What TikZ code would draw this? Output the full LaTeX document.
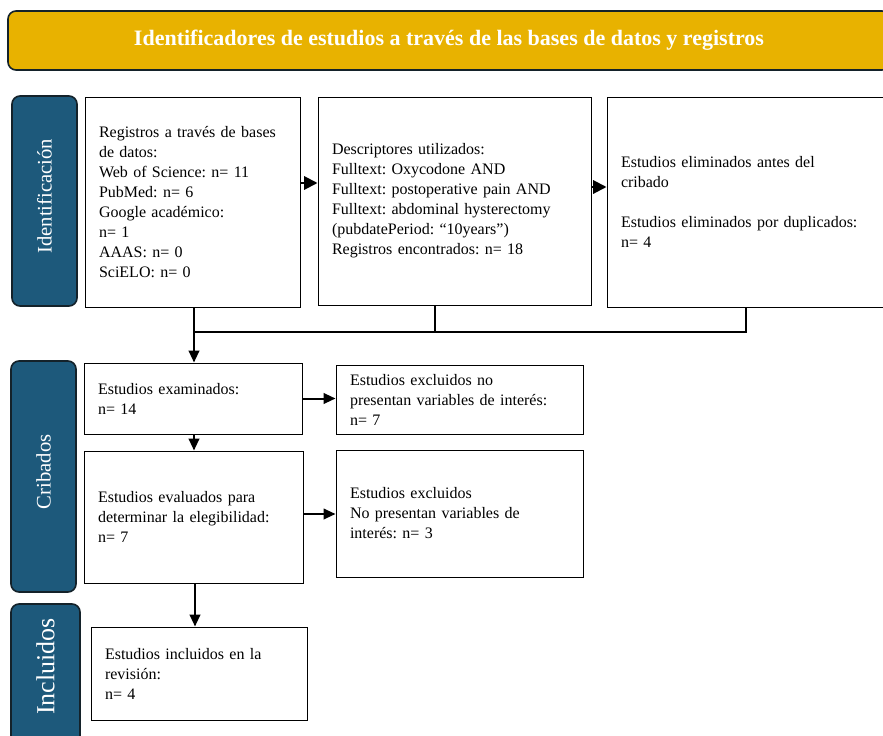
\documentclass[tikz,border=0pt]{standalone}
\usepackage{fontspec}
\setmainfont{Liberation Serif}
\usetikzlibrary{arrows.meta}
\frenchspacing

\definecolor{oro}{RGB}{232,178,0}
\definecolor{azulfase}{RGB}{29,89,123}
\definecolor{bordefase}{RGB}{20,34,42}

\tikzset{every picture/.style={line width=0.75pt}}
\tikzset{
  caja/.style={draw, fill=white, inner xsep=10.5pt, text width=#1, align=left,
    font=\fontsize{12}{15}\selectfont},
  fase/.style={draw=bordefase, line width=1.2pt, fill=azulfase, rounded corners=6pt,
    text=white, rotate=90, font=\fontsize{15.5}{18}\selectfont},
  flecha/.style={line width=1.5pt, -{Triangle[length=9pt,width=8pt]}},
  linea/.style={line width=1.5pt}
}

\begin{document}
\begin{tikzpicture}[x=0.75pt,y=0.75pt,yscale=-1,xscale=1]
\useasboundingbox (0,0) rectangle (883,736);

%Title bar
\node [draw=bordefase, line width=1.2pt, fill=oro, rounded corners=6pt, minimum width=661.5pt, minimum height=44.25pt, text=white, font=\fontsize{16.5}{20}\selectfont\bfseries] (titulo) at (449,40.5) {Identificadores de estudios a través de las bases de datos y registros};

%Phase labels
\node [fase, minimum width=157.5pt, minimum height=48.75pt] (identificacion) at (44.5,201) {\hspace{7pt}Identificación};
\node [fase, minimum width=173.25pt, minimum height=48.75pt] (cribados) at (43.5,476.5) {\hspace{7pt}Cribados};
\node [fase, minimum width=109.5pt, minimum height=51.75pt, font=\fontsize{19.5}{22}\selectfont] (incluidos) at (45.5,677) {\hspace{16pt}Incluidos};

% Text Node
\node [caja=140.25pt, minimum height=157.5pt] (registros) at (192.5,202) {Registros a través de bases\\de datos:\\Web of Science: n= 11\\PubMed: n= 6\\Google académico:\\n= 1\\AAAS: n= 0\\SciELO: n= 0};
% Text Node
\node [caja=183.75pt, minimum height=156pt] (descriptores) at (454.5,201) {Descriptores utilizados:\\Fulltext: Oxycodone AND\\Fulltext: postoperative pain AND\\Fulltext: abdominal hysterectomy\\(pubdatePeriod: “10years”)\\Registros encontrados: n= 18};
% Text Node
\node [caja=191.25pt, minimum height=157.5pt] (eliminados) at (748.5,202) {Estudios eliminados antes del\\cribado\\[14.5pt]Estudios eliminados por duplicados:\\n= 4};

% Text Node
\node [caja=142.5pt, minimum height=53.25pt] (examinados) at (193,398.5) {Estudios examinados:\\n= 14};
% Text Node
\node [caja=164.25pt, minimum height=51.75pt] (excluidosa) at (459.5,399.5) {Estudios excluidos no\\presentan variables de interés:\\n= 7};
% Text Node
\node [caja=143.25pt, minimum height=99pt] (evaluados) at (193.5,517) {Estudios evaluados para\\determinar la elegibilidad:\\n= 7};
% Text Node
\node [caja=164.25pt, minimum height=95.25pt] (excluidosb) at (459.5,513.5) {Estudios excluidos\\No presentan variables de\\interés: n= 3};
% Text Node
\node [caja=141pt, minimum height=69.75pt] (incluidosbox) at (199,673.5) {Estudios incluidos en la\\revisión:\\n= 4};

%Connectors
\coordinate (union) at (194,332);
\draw [flecha, -{Triangle[length=10pt,width=10pt]}] ([yshift=-14.25pt]registros.east) -- ([yshift=-14.25pt]registros.east -| descriptores.west);
\draw [flecha, -{Triangle[length=10pt,width=10pt]}] ([yshift=-10.5pt]descriptores.east) -- ([yshift=-10.5pt]descriptores.east -| eliminados.west);
\draw [linea] (registros.south -| union) -- (union);
\draw [linea] ([xshift=-14.6pt]descriptores.south) |- (union);
\draw [linea] (union) -| (eliminados.south -| 746,0);
\draw [flecha] (union) -- (union |- examinados.north);
\draw [flecha] (examinados.east) -- (examinados.east -| excluidosa.west);
\draw [flecha] (examinados.south -| union) -- (union |- evaluados.north);
\draw [flecha] ([yshift=-2.25pt]evaluados.east) -- ([yshift=-2.25pt]evaluados.east -| excluidosb.west);
\draw [flecha] (evaluados.south -| 195,0) -- (incluidosbox.north -| 195,0);

\end{tikzpicture}
\end{document}
